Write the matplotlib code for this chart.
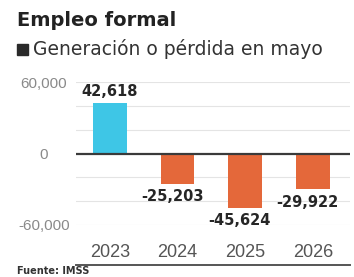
import matplotlib
matplotlib.use("Agg")
import matplotlib.pyplot as plt
from matplotlib.patches import Rectangle

years = ["2023", "2024", "2025", "2026"]
values = [42618, -25203, -45624, -29922]
value_labels = ["42,618", "-25,203", "-45,624", "-29,922"]
yticks = [60000, 0, -60000]
ytick_labels = ["60,000", "0", "-60,000"]
grid_levels = [60000, 40000, 20000, -20000, -40000, -60000]

W, H = 354, 277
fig = plt.figure(figsize=(W / 100, H / 100), dpi=100)
fig.patch.set_facecolor("white")

def fx(px):
    return px / W

def fy(py):
    return 1 - py / H

ax_left, ax_right, ax_top, ax_bot = 76, 350, 82, 225
ax = fig.add_axes([fx(ax_left), fy(ax_bot), fx(ax_right - ax_left), (ax_bot - ax_top) / H])
ax.set_facecolor("none")
ax.set_xlim(-0.5, 3.55)
ax.set_ylim(-60000, 60000)

for g in grid_levels:
    ax.axhline(g, color="#e4e4e4", lw=0.8, zorder=0)

colors = ["#3ec6e6" if v > 0 else "#e4683a" for v in values]
x = range(len(values))
ax.bar(x, values, width=0.5, color=colors, zorder=2)
ax.axhline(0, color="#3a3a3a", lw=1.6, zorder=3)

for i, (v, lab) in enumerate(zip(values, value_labels)):
    if v > 0:
        ax.annotate(lab, (i, v), xytext=(0, 3), textcoords="offset points",
                    ha="center", va="bottom", fontsize=10.5, fontweight="bold",
                    color="#262626", zorder=4)
    else:
        ax.annotate(lab, (i - 0.08, v), xytext=(0, -4), textcoords="offset points",
                    ha="center", va="top", fontsize=10.5, fontweight="bold",
                    color="#262626", zorder=4)

ax.set_yticks(yticks)
ax.set_yticklabels(ytick_labels, fontsize=11, color="#8a8a8a",
                   family="Liberation Sans", ha="center")
ax.tick_params(axis="y", length=0, pad=23)
ax.set_xticks(list(x))
ax.set_xticklabels(years, fontsize=13, color="#555555", family="Liberation Sans")
ax.tick_params(axis="x", length=0, pad=14)
for s in ax.spines.values():
    s.set_visible(False)

# titles
fig.text(fx(17), fy(20), "Empleo formal", fontsize=14, fontweight="bold",
         color="#222222", ha="left", va="center")
fig.add_artist(Rectangle((fx(17), fy(55)), fx(11), 11 / H, transform=fig.transFigure,
                         color="#2a2a2a"))
fig.text(fx(33), fy(49), "Generación o pérdida en mayo", fontsize=13.5,
         color="#333333", ha="left", va="center")

# bottom rule and source
fig.add_artist(plt.Line2D([fx(76), fx(350)], [fy(265), fy(265)], transform=fig.transFigure,
                          color="#555555", lw=1.4))
fig.text(fx(17), fy(276), "Fuente: IMSS", fontsize=7, fontweight="bold",
         color="#333333", ha="left", va="bottom")

fig.savefig("out.png", dpi=100)
